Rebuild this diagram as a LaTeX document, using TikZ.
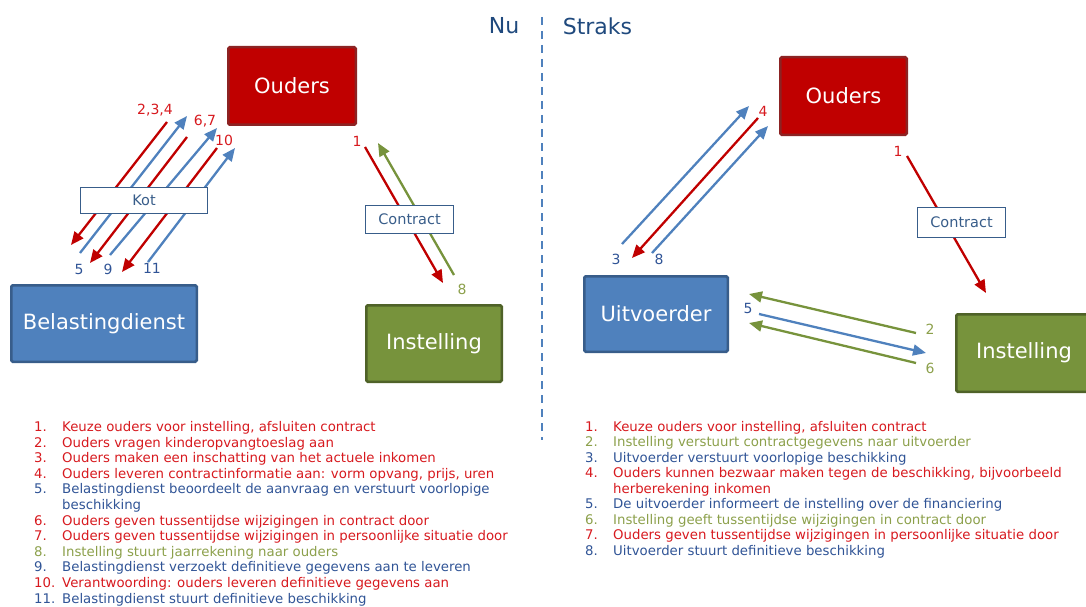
\documentclass[tikz,border=0pt]{standalone}
\usepackage{fontspec}
\setmainfont{DejaVu Sans}
\usetikzlibrary{arrows.meta}
\definecolor{redfill}{RGB}{192,0,0}
\definecolor{redline}{RGB}{140,35,35}
\definecolor{bluefill}{RGB}{79,129,189}
\definecolor{blueline}{RGB}{56,93,138}
\definecolor{greenfill}{RGB}{119,147,60}
\definecolor{greenline}{RGB}{79,98,40}
\definecolor{redtxt}{RGB}{215,25,30}
\definecolor{bluetxt}{RGB}{48,84,150}
\definecolor{greentxt}{RGB}{140,160,75}
\definecolor{titletxt}{RGB}{31,73,125}
\definecolor{arrred}{RGB}{192,0,0}
\definecolor{arrblue}{RGB}{79,129,189}
\definecolor{arrgreen}{RGB}{119,147,60}
\begin{document}
\begin{tikzpicture}[x=1pt,y=-1pt,
  actor/.style={draw, line width=2.5pt, rounded corners=1.5pt, text=white,
    font=\fontsize{21}{24}\selectfont, inner sep=0pt},
  tag/.style={draw=blueline, fill=white, line width=1pt, text=blueline,
    font=\fontsize{14.5}{17}\selectfont, inner sep=0pt},
  num/.style={font=\fontsize{14}{16}\selectfont, inner sep=0pt},
  flow/.style={line width=2.3pt, -{Triangle[length=13pt,width=11pt]}},
  lt/.style={anchor=base west, inner sep=0pt, font=\fontsize{13.3}{15}\selectfont},
  ttl/.style={text=titletxt, font=\fontsize{22}{26}\selectfont, inner sep=0pt}
]
\useasboundingbox (0,0) rectangle (1086,607);

% titles and divider
\node[ttl] (nu) at (504,26) {Nu};
\node[ttl] (straks) at (597.5,26) {Straks};
\coordinate (divtop) at (542,17);
\coordinate (divbot) at (542,440);
\draw[arrblue, line width=2pt, dash pattern=on 8pt off 6pt] (divtop) -- (divbot);

% ---------- left: Nu ----------
\coordinate (a1s) at (167,122); \coordinate (a1e) at (71,245);
\coordinate (a2s) at (80,253);  \coordinate (a2e) at (187,116);
\coordinate (a3s) at (187,137); \coordinate (a3e) at (90,263);
\coordinate (a4s) at (110,255); \coordinate (a4e) at (217,128);
\coordinate (a5s) at (217,148); \coordinate (a5e) at (122,272);
\coordinate (a6s) at (148,262); \coordinate (a6e) at (235,148);
\draw[flow, arrred] (a1s) -- (a1e);
\draw[flow, arrblue] (a2s) -- (a2e);
\draw[flow, arrred] (a3s) -- (a3e);
\draw[flow, arrblue] (a4s) -- (a4e);
\draw[flow, arrred] (a5s) -- (a5e);
\draw[flow, arrblue] (a6s) -- (a6e);

\coordinate (c1s) at (365,147); \coordinate (c1e) at (443,283);
\coordinate (c8s) at (454,275); \coordinate (c8e) at (378,143);
\draw[flow, arrred] (c1s) -- (c1e);
\draw[flow, arrgreen] (c8s) -- (c8e);

\node[actor, fill=redfill, draw=redline, minimum width=127.5pt, minimum height=77.5pt] (oudersL) at (292,86) {Ouders};
\node[actor, fill=bluefill, draw=blueline, minimum width=185.5pt, minimum height=76.5pt] (belast) at (104,323.5) {Belastingdienst};
\node[actor, fill=greenfill, draw=greenline, minimum width=135.5pt, minimum height=76.5pt] (instL) at (434,343.5) {Instelling};

\node[tag, minimum width=127pt, minimum height=26pt] (kot) at (144,200.5) {Kot};
\node[tag, minimum width=88pt, minimum height=28pt] (contrL) at (409.5,219.5) {Contract};

\node[num, text=redtxt] (n234) at (155,110) {2,3,4};
\node[num, text=redtxt] (n67) at (205,121) {6,7};
\node[num, text=redtxt] (n10) at (224,140) {10};
\node[num, text=bluetxt] (n5) at (79,269) {5};
\node[num, text=bluetxt] (n9) at (108,269) {9};
\node[num, text=bluetxt] (n11) at (152,268) {11};
\node[num, text=redtxt] (nL1) at (357,141) {1};
\node[num, text=greentxt] (nL8) at (462,289) {8};

% ---------- right: Straks ----------
\coordinate (r3s) at (622,244); \coordinate (r3e) at (749,106);
\coordinate (r4s) at (758,118); \coordinate (r4e) at (632,258);
\coordinate (r8s) at (652,253); \coordinate (r8e) at (768,126);
\draw[flow, arrblue] (r3s) -- (r3e);
\draw[flow, arrred] (r4s) -- (r4e);
\draw[flow, arrblue] (r8s) -- (r8e);

\coordinate (r1s) at (907,156); \coordinate (r1e) at (986,293);
\draw[flow, arrred] (r1s) -- (r1e);

\coordinate (r2s) at (916,333); \coordinate (r2e) at (749,294);
\coordinate (r5s) at (759,314); \coordinate (r5e) at (926,353);
\coordinate (r6s) at (916,363); \coordinate (r6e) at (749,323);
\draw[flow, arrgreen] (r2s) -- (r2e);
\draw[flow, arrblue] (r5s) -- (r5e);
\draw[flow, arrgreen] (r6s) -- (r6e);

\node[actor, fill=redfill, draw=redline, minimum width=126.5pt, minimum height=77.5pt] (oudersR) at (843.5,96) {Ouders};
\node[actor, fill=bluefill, draw=blueline, minimum width=143.5pt, minimum height=75.5pt] (uitv) at (656,314) {Uitvoerder};
\node[actor, fill=greenfill, draw=greenline, minimum width=135.5pt, minimum height=77.5pt] (instR) at (1024,353) {Instelling};

\node[tag, minimum width=88pt, minimum height=30pt] (contrR) at (961.5,222) {Contract};

\node[num, text=bluetxt] (nr3) at (616,259) {3};
\node[num, text=redtxt] (nr4) at (763,111) {4};
\node[num, text=bluetxt] (nr8) at (659,259) {8};
\node[num, text=redtxt] (nr1) at (898,151) {1};
\node[num, text=greentxt] (nr2) at (930,329) {2};
\node[num, text=bluetxt] (nr5) at (748,308) {5};
\node[num, text=greentxt] (nr6) at (930,368) {6};

% ---------- lists ----------
\foreach \n/\c/\t [count=\i] in {
  1./redtxt/{Keuze ouders voor instelling, afsluiten contract},
  2./redtxt/{Ouders vragen kinderopvangtoeslag aan},
  3./redtxt/{Ouders maken een inschatting van het actuele inkomen},
  4./redtxt/{Ouders leveren contractinformatie aan: vorm opvang, prijs, uren},
  5./bluetxt/{Belastingdienst beoordeelt de aanvraag en verstuurt voorlopige},
  {}/bluetxt/{beschikking},
  6./redtxt/{Ouders geven tussentijdse wijzigingen in contract door},
  7./redtxt/{Ouders geven tussentijdse wijzigingen in persoonlijke situatie door},
  8./greentxt/{Instelling stuurt jaarrekening naar ouders},
  9./bluetxt/{Belastingdienst verzoekt definitieve gegevens aan te leveren},
  10./redtxt/{Verantwoording: ouders leveren definitieve gegevens aan},
  11./bluetxt/{Belastingdienst stuurt definitieve beschikking}}{
  \node[lt, text=\c] (ln\i) at (34, 431.5+15.6*\i-15.6) {\n};
  \node[lt, text=\c] (lt\i) at (62, 431.5+15.6*\i-15.6) {\t};
}

\foreach \n/\c/\t [count=\i] in {
  1./redtxt/{Keuze ouders voor instelling, afsluiten contract},
  2./greentxt/{Instelling verstuurt contractgegevens naar uitvoerder},
  3./bluetxt/{Uitvoerder verstuurt voorlopige beschikking},
  4./redtxt/{Ouders kunnen bezwaar maken tegen de beschikking, bijvoorbeeld},
  {}/redtxt/{herberekening inkomen},
  5./bluetxt/{De uitvoerder informeert de instelling over de financiering},
  6./greentxt/{Instelling geeft tussentijdse wijzigingen in contract door},
  7./redtxt/{Ouders geven tussentijdse wijzigingen in persoonlijke situatie door},
  8./bluetxt/{Uitvoerder stuurt definitieve beschikking}}{
  \node[lt, text=\c] (rn\i) at (585, 431.5+15.45*\i-15.45) {\n};
  \node[lt, text=\c] (rt\i) at (613, 431.5+15.45*\i-15.45) {\t};
}
\end{tikzpicture}
\end{document}
